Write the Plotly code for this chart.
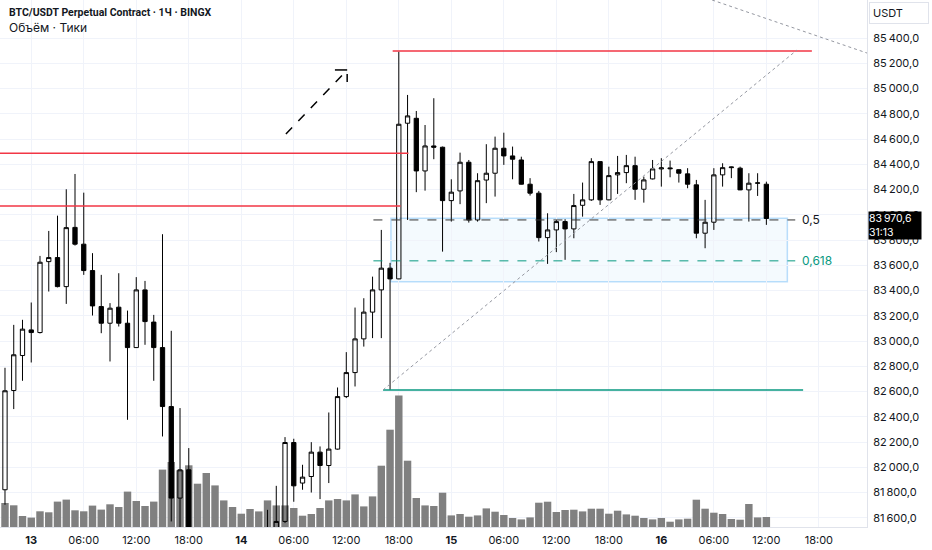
import pandas as pd
import plotly.graph_objects as go

# BTC/USDT perp, 1h candles, 12 Mar 21:00 -> 16 Mar 12:00
start = pd.Timestamp("2025-03-12 21:00")
times = pd.date_range(start, periods=88, freq="h")

opens = [81822, 82608, 82885, 83088, 83067, 83629, 83661, 83431, 83900, 83767,
         83558, 83273, 83141, 83268, 83141, 82948, 83405, 83150, 82948, 82481,
         81756, 81980, 81420, 81250, 81320, 81380, 81230, 81350, 81440, 81360,
         81420, 81460, 81571, 82196, 81875, 81927, 82120, 82014, 82144, 82560,
         82750, 83017, 83229, 83405, 83577, 83492, 84725, 84764, 84347, 84545,
         84535, 84112, 84189, 84416, 83959, 84275, 84329, 84527, 84466, 84434,
         84242, 84171, 83819, 83880, 83946, 83888, 84075, 84118, 84421, 84118,
         84316, 84334, 84389, 84202, 84284, 84363, 84371, 84357, 84324, 84237,
         83854, 83941, 84316, 84373, 84369, 84197, 84250, 84242]
highs = [82788, 83128, 83168, 83305, 83674, 83872, 83993, 84202, 84323, 84175,
         83696, 83524, 83300, 83537, 83241, 83506, 83476, 83207, 83846, 83081,
         82469, 82152, 81500, 81400, 81480, 81460, 81420, 81500, 81510, 81480,
         81663, 81853, 82239, 82226, 82020, 82199, 82165, 82434, 82632, 82912,
         83265, 83339, 83510, 83880, 83619, 85292, 84949, 84822, 84711, 84923,
         84540, 84281, 84492, 84434, 84329, 84559, 84619, 84650, 84540, 84460,
         84290, 84189, 84012, 83959, 83965, 84165, 84255, 84448, 84421, 84381,
         84466, 84474, 84460, 84302, 84434, 84448, 84429, 84360, 84369, 84276,
         84118, 84369, 84408, 84381, 84381, 84329, 84329, 84262]
lows = [81703, 82461, 82685, 82830, 83060, 83392, 83425, 83294, 83756, 83524,
        83202, 83062, 82838, 83115, 82376, 82945, 82970, 82685, 82244, 81571,
        81519, 81300, 81150, 81050, 81200, 81180, 81100, 81250, 81300, 81280,
        81300, 81400, 81558, 81727, 81822, 81800, 81748, 81875, 82140, 82548,
        82640, 82956, 83023, 83023, 82613, 83490, 83959, 84179, 84191, 84440,
        83708, 83946, 84084, 83938, 83946, 84092, 84144, 84395, 84281, 84240,
        84152, 83788, 83611, 83704, 83643, 83814, 83985, 84110, 84078, 84115,
        84165, 84250, 84118, 84096, 84280, 84223, 84297, 84255, 84210, 83814,
        83735, 83880, 84223, 84290, 84195, 83946, 84149, 83920]
closes = [82606, 82891, 83094, 83067, 83624, 83661, 83431, 83898, 83767, 83558,
          83278, 83141, 83260, 83141, 82948, 83405, 83154, 82948, 82481, 81756,
          81980, 81420, 81250, 81320, 81380, 81230, 81350, 81440, 81360, 81420,
          81460, 81571, 82196, 81853, 81922, 82120, 82014, 82144, 82560, 82750,
          83017, 83229, 83405, 83577, 83492, 84717, 84783, 84347, 84545, 84535,
          84112, 84179, 84416, 83959, 84270, 84329, 84527, 84466, 84440, 84242,
          84171, 83819, 83880, 83946, 83888, 84073, 84118, 84421, 84118, 84310,
          84334, 84389, 84202, 84276, 84363, 84371, 84365, 84329, 84242, 83854,
          83941, 84316, 84373, 84378, 84197, 84250, 84252, 83970.6]
volumes = [240, 217, 110, 94, 157, 147, 254, 274, 167, 157,
           214, 174, 227, 200, 354, 260, 210, 254, 574, 650,
           567, 617, 433, 540, 416, 266, 200, 133, 180, 156,
           266, 216, 216, 190, 113, 130, 190, 266, 280, 266,
           326, 206, 306, 613, 973, 1316, 663, 290, 216, 210,
           343, 116, 130, 103, 116, 186, 153, 120, 90, 76,
           96, 243, 253, 150, 170, 173, 156, 183, 183, 133,
           163, 126, 113, 90, 76, 90, 53, 76, 83, 273,
           183, 143, 130, 80, 73, 230, 96, 100]

price_ticks = list(range(81600, 85401, 200))
time_ticks = pd.date_range("2025-03-13 00:00", "2025-03-16 18:00", freq="6h")

# drawn levels
res_top = 85297
res_mid = 84487
res_low = 84070
swing_low = 82613
swing_high = 85305
fib_05 = 83959
fib_0618 = 83635
zone = (83469, 83973)
last_price = 83970.6


def t(h):
    return start + pd.Timedelta(hours=h)


def fmt(v):
    return f"{v // 1000}\u202f{v % 1000:03d},0"


ticktext = [f"<b>{d.day}</b>" if d.hour == 0 else d.strftime("%H:%M") for d in time_ticks]

fig = go.Figure()
fig.add_trace(go.Bar(x=times, y=volumes, yaxis="y", marker_color="#808080",
                     marker_line_width=0, hoverinfo="skip"))
fig.add_trace(go.Candlestick(
    x=times, open=opens, high=highs, low=lows, close=closes, yaxis="y2",
    increasing=dict(line=dict(color="#000000", width=1), fillcolor="rgba(0,0,0,0)"),
    decreasing=dict(line=dict(color="#000000", width=1), fillcolor="#000000"),
    whiskerwidth=0, hoverinfo="skip"))

red = "#f23645"
teal = "#089981"
shapes = [
    dict(type="rect", x0=t(44.1), x1=t(89.4), y0=zone[0], y1=zone[1],
         fillcolor="rgba(33,150,243,0.05)", line=dict(color="rgba(33,150,243,0.3)", width=1.5)),
    dict(type="line", x0=t(44.3), x1=t(92.2), y0=res_top, y1=res_top, line=dict(color=red, width=1.5)),
    dict(type="line", x0=t(-1), x1=t(46.1), y0=res_mid, y1=res_mid, line=dict(color=red, width=1.5)),
    dict(type="line", x0=t(-1), x1=t(45.2), y0=res_low, y1=res_low, line=dict(color=red, width=1.5)),
    dict(type="line", x0=t(43.2), x1=t(91.2), y0=swing_low, y1=swing_low, line=dict(color=teal, width=1.5)),
    dict(type="line", x0=t(42.1), x1=t(90.3), y0=fib_05, y1=fib_05, line=dict(color="#333333", width=1, dash="dash")),
    dict(type="line", x0=t(42.1), x1=t(90.3), y0=fib_0618, y1=fib_0618, line=dict(color=teal, width=1, dash="dash")),
    dict(type="line", x0=t(43.2), x1=t(90.5), y0=swing_low, y1=swing_high, line=dict(color="#9598a1", width=1, dash="dot")),
    dict(type="line", x0=t(80.8), x1=t(98.5), y0=85701, y1=85281, line=dict(color="#9598a1", width=1, dash="dot")),
    dict(type="line", x0=t(32.1), x1=t(39.1), y0=84640, y1=85147, line=dict(color="#000000", width=1.5, dash="dash")),
    dict(type="line", x0=t(37.7), x1=t(39.1), y0=85147, y1=85147, line=dict(color="#000000", width=1.5)),
    dict(type="line", x0=t(39.1), x1=t(39.1), y0=85115, y1=85052, line=dict(color="#000000", width=1.5)),
]
for s in shapes:
    s["xref"] = "x"
    s["yref"] = "y2"
    s["layer"] = "below" if s["type"] == "rect" else "above"

font = "Inter, Roboto, sans-serif"
annotations = [
    dict(xref="paper", yref="paper", x=0.008, y=1, yshift=-4, xanchor="left", yanchor="top",
         text="<b>BTC/USDT Perpetual Contract · 1Ч · BINGX</b>", showarrow=False,
         font=dict(family="Roboto", size=10.5, color="#131722")),
    dict(xref="paper", yref="paper", x=0.008, y=1, yshift=-18, xanchor="left", yanchor="top",
         text="Объём · Тики", showarrow=False, font=dict(family=font, size=12, color="#131722")),
    dict(xref="x", yref="y2", x=t(90.8), y=fib_05, xanchor="left", text="0,5", showarrow=False,
         font=dict(family=font, size=12, color="#131722")),
    dict(xref="x", yref="y2", x=t(90.8), y=fib_0618, xanchor="left", text="0,618", showarrow=False,
         font=dict(family=font, size=12, color=teal)),
    dict(xref="paper", yref="y2", x=1, xshift=1, y=last_price, yshift=7, xanchor="left",
         yanchor="top", align="left", width=52,
         text="83\u202f970,6<br>31:13", showarrow=False, bgcolor="#000000", borderpad=0,
         font=dict(family=font, size=10.5, color="#ffffff")),
    dict(xref="paper", yref="paper", x=1, xshift=2, y=0.996, xanchor="left", yanchor="top",
         text="USDT", showarrow=False,
         bordercolor="#e0e3eb", borderwidth=1, borderpad=3, width=52, align="left",
         font=dict(family=font, size=11, color="#131722")),
]

fig.update_layout(
    width=932, height=550,
    margin=dict(l=0, r=65, t=0, b=23),
    paper_bgcolor="#ffffff", plot_bgcolor="#ffffff",
    showlegend=False, bargap=0.15,
    shapes=shapes, annotations=annotations,
    xaxis=dict(type="date", range=[t(-0.57), t(98.5)], rangeslider=dict(visible=False),
               tickvals=time_ticks, ticktext=ticktext, showgrid=True, gridcolor="#f0f3fa",
               showline=True, linecolor="#e0e3eb", zeroline=False, ticklabelstandoff=3,
               tickfont=dict(family=font, size=11, color="#131722")),
    yaxis=dict(range=[0, 5270], visible=False, fixedrange=True),
    yaxis2=dict(overlaying="y", side="right", range=[81527, 85701],
                tickvals=price_ticks, ticktext=[fmt(v) for v in price_ticks],
                showgrid=True, gridcolor="#f0f3fa", showline=True, linecolor="#e0e3eb",
                zeroline=False, ticklabelstandoff=3,
                tickfont=dict(family=font, size=11, color="#131722")),
)

# drop the default page margin so the chart sits at the window's top-left
fig.write_html("out.html", config={"displayModeBar": False},
               post_script="document.body.style.margin='0';")
